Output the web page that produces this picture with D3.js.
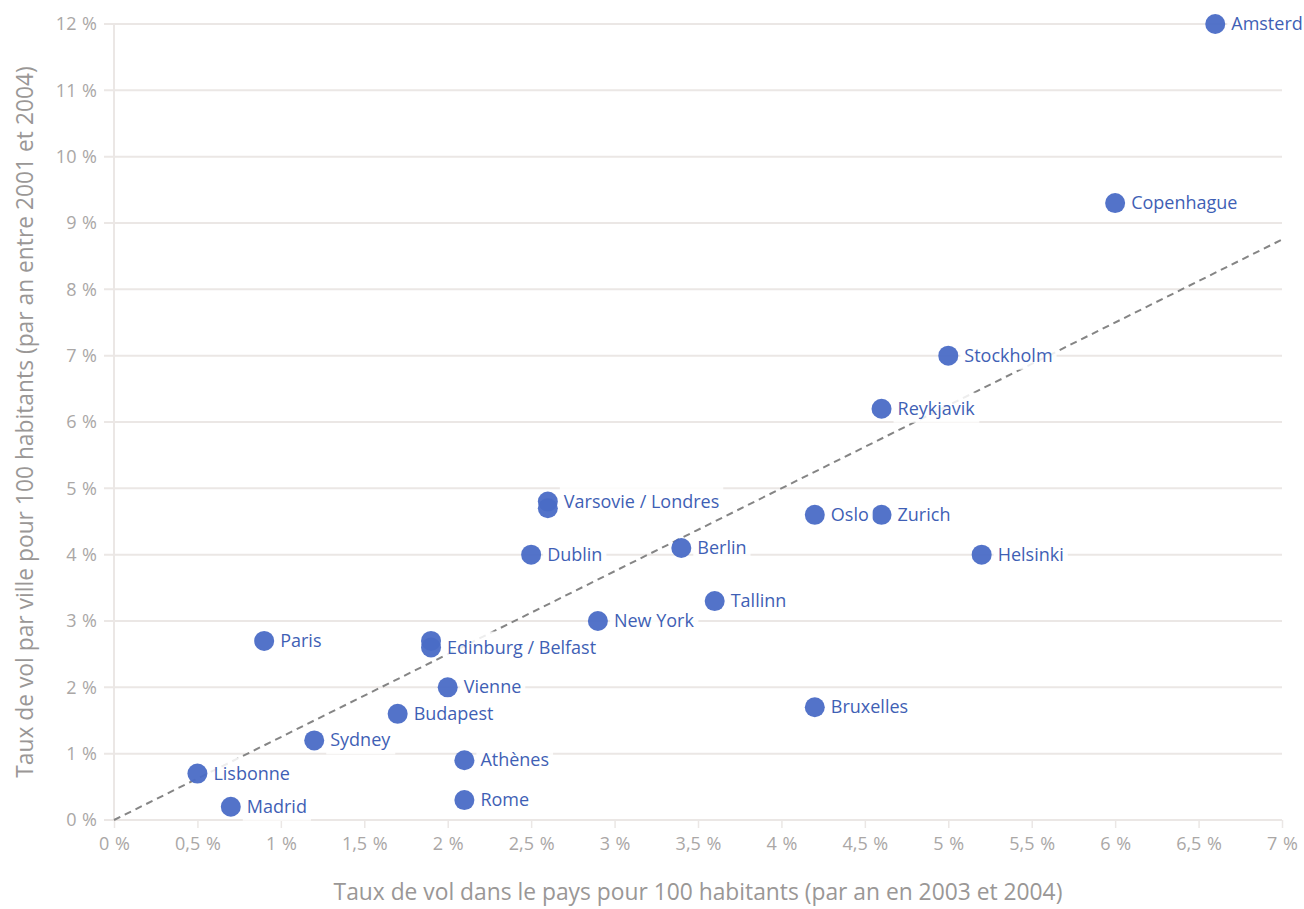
<!DOCTYPE html>
<html><head><meta charset="utf-8">
<script src="https://cdn.jsdelivr.net/npm/d3@7"></script>
<style>body{margin:0;background:#fff}svg{display:block}</style>
</head><body><svg id="c" width="1304" height="909"></svg>
<script>
const cities = ["Amsterd","Copenhague","Stockholm","Reykjavik","Oslo","Zurich","Helsinki","Varsovie / Londres","","Dublin","Berlin","Tallinn","New York","Paris","","Edinburg / Belfast","Vienne","Budapest","Sydney","Athènes","Rome","Lisbonne","Madrid","Bruxelles"];
const countryRate = [6.6,6.0,5.0,4.6,4.2,4.6,5.2,2.6,2.6,2.5,3.4,3.6,2.9,0.9,1.9,1.9,2.0,1.7,1.2,2.1,2.1,0.5,0.7,4.2];
const cityRate =    [12.0,9.3,7.0,6.2,4.6,4.6,4.0,4.8,4.7,4.0,4.1,3.3,3.0,2.7,2.7,2.6,2.0,1.6,1.2,0.9,0.3,0.7,0.2,1.7];
const xTicks = [0,0.5,1,1.5,2,2.5,3,3.5,4,4.5,5,5.5,6,6.5,7];
const yTicks = [0,1,2,3,4,5,6,7,8,9,10,11,12];
const trendSlope = [0, 1.25]; // intercept, slope
const xTitle = "Taux de vol dans le pays pour 100 habitants (par an en 2003 et 2004)";
const yTitle = "Taux de vol par ville pour 100 habitants (par an entre 2001 et 2004)";

const svg = d3.select("#c");
const font = "'Open Sans',sans-serif";
const x = d3.scaleLinear().domain([0,7]).range([114,1282]);
const y = d3.scaleLinear().domain([0,12]).range([820,24]);
const fmt = v => String(v).replace(".", ",") + " %";

// grid
svg.append("g").selectAll("line").data(yTicks).join("line")
  .attr("x1", 104).attr("x2", 1282).attr("y1", d=>y(d)).attr("y2", d=>y(d))
  .attr("stroke", "#ebe7e5").attr("stroke-width", 2);
// y axis line
svg.append("line").attr("x1", x(0)).attr("x2", x(0)).attr("y1", y(12)).attr("y2", y(0))
  .attr("stroke", "#ebe7e5").attr("stroke-width", 2);

// x axis
const xa = svg.append("g").attr("transform", `translate(0,${y(0)})`)
  .call(d3.axisBottom(x).tickValues(xTicks).tickFormat(fmt).tickSize(8).tickPadding(9));
xa.select(".domain").remove();
xa.selectAll("line").attr("stroke", "#ebe7e5").attr("stroke-width", 1.5);
xa.selectAll("text").attr("fill", "#aaa7a6").attr("font-size", 18).attr("font-family", font).attr("word-spacing", 1);

// y axis
const ya = svg.append("g").attr("transform", `translate(${x(0)-10},0)`)
  .call(d3.axisLeft(y).tickValues(yTicks).tickFormat(fmt).tickSize(0).tickPadding(7));
ya.select(".domain").remove();
ya.selectAll("text").attr("fill", "#aaa7a6").attr("font-size", 18).attr("font-family", font).attr("word-spacing", 1);

// titles
svg.append("text").attr("x", 698).attr("y", 900).attr("text-anchor", "middle")
  .attr("fill", "#9a9796").attr("font-size", 22.8).attr("font-family", font).text(xTitle);
svg.append("text").attr("transform", "translate(33,422) rotate(-90)").attr("text-anchor", "middle")
  .attr("fill", "#9a9796").attr("font-size", 22.8).attr("font-family", font).text(yTitle);

const data = cities.map((c,i)=>({c, xv: countryRate[i], yv: cityRate[i]}));

// labels background + text
const lg = svg.append("g");
const labels = data.filter(d=>d.c);
const texts = lg.selectAll("text").data(labels).join("text")
  .attr("x", d=>x(d.xv)+16).attr("y", d=>y(d.yv)+6)
  .attr("fill", "#3f5fb5").attr("font-size", 18).attr("font-weight", 500).attr("font-family", font).text(d=>d.c);
texts.each(function(){
  const b = this.getBBox();
  lg.insert("rect", "text").attr("x", b.x-4).attr("y", b.y-3).attr("width", b.width+8).attr("height", b.height+6)
    .attr("fill", "#fff").attr("opacity", 0.85);
});

// trend line
svg.append("line").attr("x1", x(0)).attr("y1", y(trendSlope[0]))
  .attr("x2", x(7)).attr("y2", y(trendSlope[0]+trendSlope[1]*7))
  .attr("stroke", "#858585").attr("stroke-width", 2).attr("stroke-dasharray", "7,5");

// dots
svg.append("g").selectAll("circle").data(data).join("circle")
  .attr("cx", d=>x(d.xv)).attr("cy", d=>y(d.yv)).attr("r", 10)
  .attr("fill", "#4a6bc6").attr("fill-opacity", 0.95);

lg.raise();
svg.selectAll("circle").raise();
</script></body></html>
